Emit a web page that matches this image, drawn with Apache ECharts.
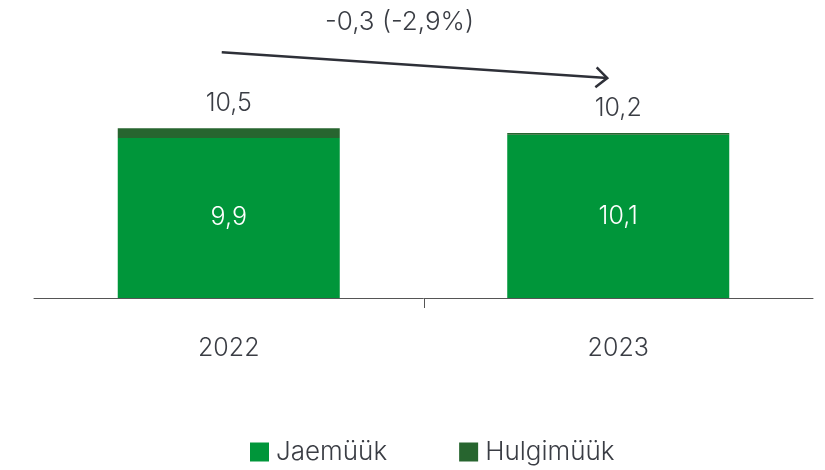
<!DOCTYPE html>
<html><head><meta charset="utf-8">
<script src="https://cdn.jsdelivr.net/npm/echarts@6/dist/echarts.min.js"></script>
<style>html,body{margin:0;padding:0;background:#fff}#c{width:825px;height:470px}</style>
</head><body><div id="c"></div>
<script>
var categories = ['2022', '2023'];
var jaemuuk = [9.9, 10.1];
var hulgimuuk = [0.6, 0.1];
var totals = [10.5, 10.2];
var changeText = '-0,3 (-2,9%)';
var seriesNames = ['Jaemüük', 'Hulgimüük'];

var FONT = 'Inter';
var FW = 300;
var FS = 25;
var TXT = '#3a3d44';
function fmt(v){ return String(v.toFixed(1)).replace('.', ','); }

var chart = echarts.init(document.getElementById('c'), null, {renderer:'canvas'});
chart.setOption({
  animation:false,
  textStyle:{fontFamily:FONT},
  grid:{left:34, right:12, top:104, bottom:172},
  legend:{
    bottom:0, left:245, itemWidth:19, itemHeight:19, itemGap:72, icon:'rect',
    textStyle:{fontFamily:FONT, fontWeight:FW, fontSize:26, color:TXT, padding:[0,0,0,2]},
    data:seriesNames
  },
  xAxis:{
    type:'category', data:categories,
    axisLine:{lineStyle:{color:'#555', width:1}},
    axisTick:{show:false},
    axisLabel:{margin:38, fontSize:FS, fontWeight:FW, color:TXT, fontFamily:FONT}
  },
  yAxis:{type:'value', min:0, max:12, show:false, splitLine:{show:false}},
  series:[
    {name:seriesNames[0], type:'bar', stack:'s', barWidth:'57%', data:jaemuuk,
     itemStyle:{color:'#00963a'},
     label:{show:true, position:'inside', color:'#fff', fontSize:FS, fontWeight:FW, fontFamily:FONT,
       formatter:function(p){return fmt(p.value);}}},
    {name:seriesNames[1], type:'bar', stack:'s', data:hulgimuuk,
     itemStyle:{color:'#27652f'},
     label:{show:true, position:'top', distance:12, color:TXT, fontSize:FS, fontWeight:FW, fontFamily:FONT,
       formatter:function(p){return fmt(totals[p.dataIndex]);}}}
  ]
});

var c1 = chart.convertToPixel({xAxisIndex:0}, categories[0]);
var c2 = chart.convertToPixel({xAxisIndex:0}, categories[1]);
var y0 = chart.convertToPixel({yAxisIndex:0}, 0);
var x1 = c1 - 7;
var x2 = c2 - 11;
var y1 = chart.convertToPixel({yAxisIndex:0}, totals[0]) - 76;
var y2 = chart.convertToPixel({yAxisIndex:0}, totals[1]) - 55;
var ang = Math.atan2(y2 - y1, x2 - x1);
var L = 15, spread = 0.72;
var ah1 = [x2 - L*Math.cos(ang - spread), y2 - L*Math.sin(ang - spread)];
var ah2 = [x2 - L*Math.cos(ang + spread), y2 - L*Math.sin(ang + spread)];
var mid = Math.round((c1 + c2) / 2) + 0.5;
chart.setOption({graphic:[
  {type:'line', shape:{x1:mid, y1:y0, x2:mid, y2:y0 + 10}, style:{stroke:'#555', lineWidth:1}},
  {type:'line', shape:{x1:x1, y1:y1, x2:x2, y2:y2}, style:{stroke:'#2e3038', lineWidth:2.5}},
  {type:'polyline', shape:{points:[ah1, [x2, y2], ah2]}, style:{stroke:'#2e3038', lineWidth:2.5, fill:null}},
  {type:'text', x:(x1 + x2)/2 - 15, y:22, style:{text:changeText, fill:TXT, fontSize:26, fontWeight:FW, fontFamily:FONT, align:'center', verticalAlign:'middle'}}
]});
</script></body></html>
